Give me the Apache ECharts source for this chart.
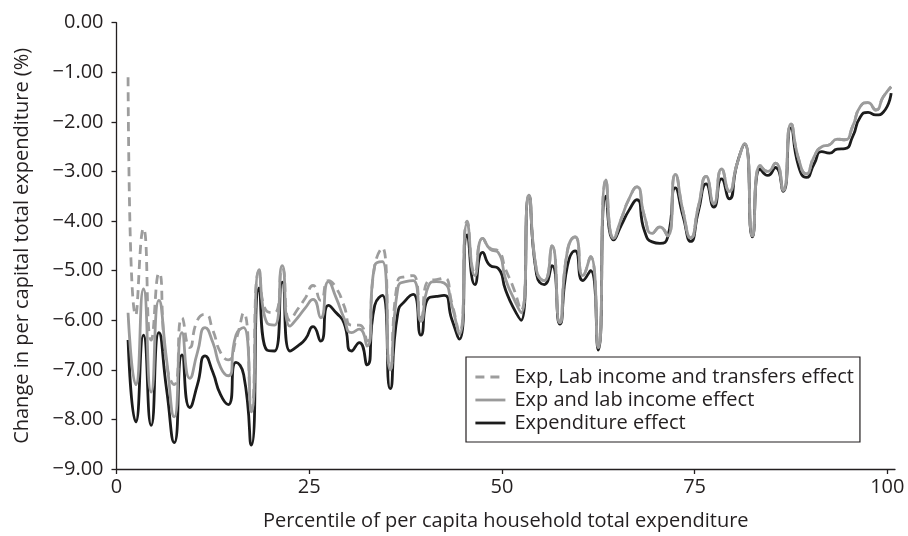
<!DOCTYPE html>
<html>
<head>
<meta charset="utf-8">
<script src="https://cdn.jsdelivr.net/npm/echarts@6/dist/echarts.min.js"></script>
<style>
  html, body { margin: 0; padding: 0; background: #fff; }
  #chart { width: 908px; height: 536px; }
</style>
</head>
<body>
<div id="chart"></div>
<script>
// Percentile positions (midpoints of each percentile bin)
const percentiles = Array.from({ length: 100 }, (_, i) => i + 1.5);

// Change in per capita total expenditure (%), per percentile
const expLabTransfers = [
  -1.1, -5.9, -4.15, -6.4, -5.05, -6.9, -7.3, -5.95, -6.55, -6.0,
  -5.88, -6.2, -6.65, -6.8, -6.4, -5.85, -7.8, -5.0, -5.82, -5.85,
  -4.95, -6.0, -5.78, -5.55, -5.3, -5.6, -5.2, -5.35, -5.7, -6.1,
  -6.1, -6.42, -4.9, -4.54, -7.0, -5.2, -5.12, -5.1, -5.95, -5.2,
  -5.18, -5.15, -5.65, -6.25, -4.0, -5.05, -4.35, -4.55, -4.6, -4.98,
  -5.35, -5.8, -3.48, -5.0, -5.2, -4.5, -6.05, -4.6, -4.32, -5.1,
  -4.72, -6.55, -3.17, -4.35, -3.95, -3.55, -3.31, -3.9, -4.25, -4.12,
  -4.3, -3.06, -3.8, -4.34, -3.7, -3.1, -3.65, -2.95, -3.4, -2.85,
  -2.44, -4.3, -2.88, -3.0, -2.83, -3.38, -2.04, -2.75, -3.05, -2.7,
  -2.5, -2.46, -2.35, -2.36, -2.09, -1.69, -1.61, -1.76, -1.49, -1.29
];

const expLabIncome = [
  -5.85, -7.3, -5.37, -7.45, -5.6, -6.8, -7.95, -6.25, -7.17, -6.65,
  -6.15, -6.45, -6.95, -7.12, -6.3, -6.15, -7.85, -4.98, -6.05, -6.1,
  -4.9, -6.12, -5.95, -5.75, -5.58, -5.95, -5.22, -5.55, -5.95, -6.25,
  -6.18, -6.52, -4.9, -4.82, -7.0, -5.35, -5.22, -5.2, -6.02, -5.3,
  -5.22, -5.25, -5.7, -6.28, -4.04, -5.1, -4.35, -4.57, -4.63, -5.18,
  -5.55, -5.85, -3.48, -5.0, -5.2, -4.5, -6.05, -4.6, -4.32, -5.1,
  -4.72, -6.55, -3.17, -4.35, -3.95, -3.55, -3.31, -3.9, -4.25, -4.12,
  -4.3, -3.06, -3.8, -4.34, -3.7, -3.1, -3.65, -2.95, -3.4, -2.85,
  -2.44, -4.3, -2.88, -3.0, -2.83, -3.38, -2.04, -2.75, -3.05, -2.7,
  -2.5, -2.46, -2.35, -2.36, -2.09, -1.69, -1.61, -1.76, -1.49, -1.29
];

const expenditure = [
  -6.4, -8.05, -6.3, -8.12, -6.25, -7.4, -8.47, -6.7, -7.76, -7.3,
  -6.72, -7.05, -7.5, -7.7, -6.85, -7.1, -8.52, -5.35, -6.6, -6.62,
  -5.23, -6.62, -6.52, -6.38, -6.13, -6.42, -5.7, -5.85, -6.05, -6.62,
  -6.45, -6.9, -5.7, -5.5, -7.38, -5.85, -5.6, -5.48, -6.3, -5.55,
  -5.52, -5.5, -5.98, -6.38, -4.28, -5.28, -4.63, -4.9, -4.95, -5.4,
  -5.75, -6.0, -3.5, -5.08, -5.28, -4.9, -6.08, -4.9, -4.6, -5.2,
  -5.0, -6.6, -3.5, -4.38, -4.08, -3.78, -3.57, -4.2, -4.42, -4.45,
  -4.33, -3.33, -3.9, -4.41, -3.8, -3.25, -3.72, -3.15, -3.55, -2.85,
  -2.45, -4.32, -2.95, -3.08, -2.92, -3.4, -2.12, -2.9, -3.12, -2.85,
  -2.6, -2.63, -2.55, -2.54, -2.3, -1.9, -1.81, -1.86, -1.8, -1.42
];

const xTicks = [0, 25, 50, 75, 100];
const seriesNames = [
  'Exp, Lab income and transfers effect',
  'Exp and lab income effect',
  'Expenditure effect'
];

const pairs = (ys) => percentiles.map((x, i) => [x, ys[i]]);
const FONT = '"Open Sans", "Noto Sans", sans-serif';
const INK = '#231f20';
const FS = 20;

const chart = echarts.init(document.getElementById('chart'), null, { renderer: 'canvas' });

chart.setOption({
  animation: false,
  backgroundColor: '#ffffff',
  textStyle: { fontFamily: FONT, color: INK },
  grid: { left: 116.5, right: 13, top: 22.7, bottom: 66, containLabel: false },
  xAxis: {
    type: 'value',
    min: 0,
    max: 101,
    name: 'Percentile of per capita household total expenditure',
    nameLocation: 'middle',
    nameGap: 42,
    nameTextStyle: { fontSize: FS, color: INK, fontFamily: FONT },
    axisLine: { show: true, onZero: false, lineStyle: { color: INK, width: 1.3 } },
    axisTick: { show: true, length: 5, customValues: xTicks, lineStyle: { color: INK, width: 1.3 } },
    axisLabel: { customValues: xTicks, fontSize: FS, color: INK, margin: 8, fontFamily: FONT },
    splitLine: { show: false }
  },
  yAxis: {
    type: 'value',
    min: -9,
    max: 0,
    interval: 1,
    name: 'Change in per capital total expenditure (%)',
    nameLocation: 'middle',
    nameGap: 84,
    nameRotate: 90,
    nameTextStyle: { fontSize: FS, color: INK, fontFamily: FONT },
    axisLine: { show: true, lineStyle: { color: INK, width: 1.3 } },
    axisTick: { show: true, length: 5, lineStyle: { color: INK, width: 1.3 } },
    axisLabel: {
      fontSize: FS, color: INK, margin: 13, fontFamily: FONT,
      formatter: (v) => (v < 0 ? '\u2212' : '') + Math.abs(v).toFixed(2)
    },
    splitLine: { show: false }
  },
  legend: {
    data: seriesNames,
    orient: 'vertical',
    left: 466,
    top: 357,
    padding: [10, 6, 9, 8],
    itemGap: 3,
    itemWidth: 30,
    itemHeight: 14,
    borderColor: INK,
    borderWidth: 1.2,
    borderRadius: 0,
    backgroundColor: '#ffffff',
    itemStyle: { opacity: 0 },
    lineStyle: { width: 2.8 },
    textStyle: { fontSize: FS, color: INK, fontFamily: FONT, lineHeight: 20, padding: [0, 0, 0, 4] }
  },
  series: [
    {
      name: seriesNames[2],
      type: 'line',
      data: pairs(expenditure),
      smooth: 0.6,
      symbol: 'none',
      z: 2,
      lineStyle: { color: '#1c1c1c', width: 2.8 },
      itemStyle: { color: '#1c1c1c' }
    },
    {
      name: seriesNames[1],
      type: 'line',
      data: pairs(expLabIncome),
      smooth: 0.6,
      symbol: 'none',
      z: 3,
      lineStyle: { color: '#9a9a9a', width: 2.8 },
      itemStyle: { color: '#9a9a9a' }
    },
    {
      name: seriesNames[0],
      type: 'line',
      data: pairs(expLabTransfers),
      smooth: 0.6,
      symbol: 'none',
      z: 4,
      lineStyle: { color: '#9d9d9d', width: 2.8, type: [9, 6] },
      itemStyle: { color: '#9d9d9d' }
    }
  ]
});
</script>
</body>
</html>
